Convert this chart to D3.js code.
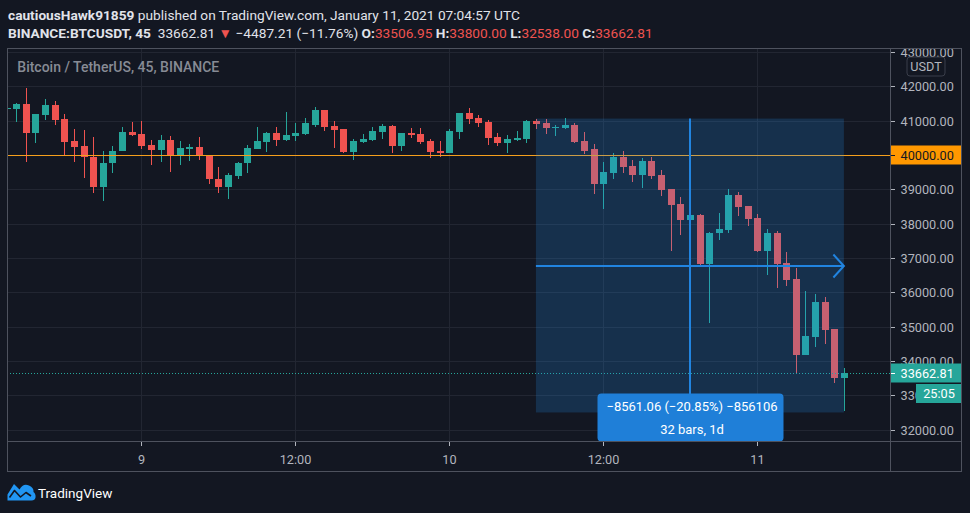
<!DOCTYPE html>
<html><head><meta charset="utf-8">
<script src="https://cdn.jsdelivr.net/npm/d3@7/dist/d3.min.js"></script>
<style>
html,body{margin:0;padding:0;background:#131722;}
svg{display:block;font-family:Roboto,"Noto Sans",sans-serif;}
</style></head><body>
<svg id="c" width="970" height="513"></svg>
<script>
// ---------- data (45-minute bars, first bar Jan 8 13:30 UTC, last bar Jan 11 06:45 UTC) ----------
const openP  = [41340,41329,41475,40637,41163,41446,41037,40394,40248,39956,39059,39760,40111,40657,
  40599,40277,40140,40424,39965,40169,40219,39994,39314,39059,39381,39760,40161,40374,40628,40424,40540,40599,40862,41300,40832,40745,40102,40365,40424,40657,40832,40248,40628,40599,40394,40131,
  40073,40657,41212,41066,40949,40511,40336,40424,40453,40979,40920,40774,40774,40862,40394,40161,39168,39489,39956,39693,39430,39839,39430,39021,38583,38116,38262,36831,37736,37824,38846,38525,
  38174,37210,37736,36860,36393,34173,34698,35721,34932,33506.95];
const highP  = [41380,41525,41963,41183,41621,41563,41183,40745,40716,40511,40131,40248,40803,40949,
  40979,40424,40570,40540,40394,40307,40511,39994,39644,39489,39810,40277,40803,40666,40803,41241,40920,41066,41387,41300,40979,40745,40453,40599,40803,40891,40862,40628,40774,40774,40453,40394,
  40745,41212,41358,41154,41008,40628,40570,40686,41008,41061,41037,40862,41066,40920,40657,40307,39810,40073,40131,39869,39927,39956,39576,39021,38788,38300,38291,37765,38320,39021,38934,38525,
  38291,37853,37795,37181,36714,36042,35954,35867,34932,33800];
const lowP   = [41320,40958,39790,40345,41017,40870,39965,39790,39322,38884,38650,39468,40111,40540,
  40169,39702,39790,39498,39702,39819,39848,39147,38884,38709,39293,39468,40161,40102,40248,40394,40394,40570,40803,40686,40190,40044,39869,40336,40394,40453,40044,40131,40482,40307,39927,39956,
  40073,40453,40891,40803,40277,40248,40044,40394,40336,40745,40599,40540,40745,40336,40015,38875,38437,39314,39489,39226,39051,39314,38817,37210,37678,38050,36800,35116,37532,37736,38233,37941,
  37181,36509,36130,36188,33618,34173,34406,34494,33355,32538];
const closeP = [41360,41475,40637,41183,41446,41017,40374,40228,39936,39059,39781,40131,40657,40570,
  40257,40140,40424,39965,40190,40219,39965,39293,39059,39410,39781,40190,40394,40628,40424,40570,40628,40920,41300,40803,40716,40102,40394,40453,40686,40832,40248,40628,40570,40365,40102,40073,
  40686,41212,41037,40920,40482,40336,40453,40482,40979,40891,40774,40803,40862,40365,40131,39168,39518,39956,39664,39430,39839,39401,38992,38554,38116,38262,36831,37736,37853,38846,38496,38145,
  37210,37736,36831,36363,34173,34728,35721,34903,33507,33662.81];

const timeTickBars   = [14, 30, 46, 62, 78];            // bar positions of the time labels
const timeTickLabels = ["9", "12:00", "10", "12:00", "11"];
const priceTicks     = [32000,33000,34000,35000,36000,37000,38000,39000,40000,41000,42000,43000];
const priceLine      = 40000;                             // horizontal line level
const lastPrice      = 33662.81;
const countdown      = "25:05";
const measureBars    = [55, 87];                          // date/price range tool: from bar, to bar
const measurePrices  = [41061.06, 32500.00];
const measureText    = ["\u22128561.06 (\u221220.85%) \u2212856106", "32 bars, 1d"];

// ---------- layout ----------
const W = 970, H = 513;
const P = {l: 7, r: 890, t: 49, b: 441, axisR: 962, timeB: 472};
const UP = "#26a69a", DOWN = "#ef5350", AX = "#b2b5be", GRID = "#222632", BORDER = "#4e525e";

const svg = d3.select("#c");
svg.append("rect").attr("width", W).attr("height", H).attr("fill", "#131722");

const x = d3.scaleLinear().domain([0.047, 91.79]).range([P.l, P.r]);
const y = d3.scaleLinear().domain([31669, 43088]).range([P.b, P.t]);
const px = v => Math.round(x(v));

const defs = svg.append("defs");
defs.append("clipPath").attr("id", "plot").append("rect")
  .attr("x", P.l).attr("y", P.t).attr("width", P.r - P.l).attr("height", P.b - P.t);
defs.append("clipPath").attr("id", "axis").append("rect")
  .attr("x", P.r).attr("y", P.t).attr("width", P.axisR - P.r).attr("height", P.b - P.t);

// ---------- header ----------
const HF = 13.7;
const h1 = svg.append("text").attr("x", 8).attr("y", 19.5).attr("font-size", HF).attr("fill", "#e1e3ea");
h1.append("tspan").attr("font-weight", 700).text("cautiousHawk91859");
h1.append("tspan").text(" published on TradingView.com, January 11, 2021 07:04:57 UTC");

const h2 = svg.append("text").attr("x", 8).attr("y", 38).attr("font-size", HF).attr("fill", "#e1e3ea");
h2.append("tspan").attr("font-weight", 700).text("BINANCE:BTCUSDT, 45");
h2.append("tspan").text("\u00a0 33662.81 ");
h2.append("tspan").attr("fill", DOWN).text("\u25BC");
h2.append("tspan").text(" \u22124487.21 (\u221211.76%) ");
[["O:", "33506.95"], ["H:", "33800.00"], ["L:", "32538.00"], ["C:", "33662.81"]].forEach(([k, v], i) => {
  h2.append("tspan").attr("font-weight", 700).text((i ? " " : "") + k);
  h2.append("tspan").attr("fill", DOWN).text(v);
});

// ---------- grid ----------
const g = svg.append("g").attr("clip-path", "url(#plot)").attr("shape-rendering", "crispEdges");
g.selectAll(".hg").data(priceTicks).join("line")
  .attr("x1", P.l).attr("x2", P.r)
  .attr("y1", d => Math.round(y(d)) + 0.5).attr("y2", d => Math.round(y(d)) + 0.5)
  .attr("stroke", GRID);
g.selectAll(".vg").data(timeTickBars).join("line")
  .attr("y1", P.t).attr("y2", P.b)
  .attr("x1", d => px(d) + 0.5).attr("x2", d => px(d) + 0.5)
  .attr("stroke", GRID);

// ---------- candles ----------
const bars = openP.map((o, i) => ({i, o, h: highP[i], l: lowP[i], c: closeP[i]}));
const cg = g.append("g");
cg.selectAll("line.w").data(bars).join("line")
  .attr("x1", d => px(d.i) + 0.5).attr("x2", d => px(d.i) + 0.5)
  .attr("y1", d => Math.round(y(d.h))).attr("y2", d => Math.round(y(d.l)))
  .attr("stroke", d => d.c >= d.o ? UP : DOWN);
cg.selectAll("rect.b").data(bars).join("rect")
  .attr("x", d => px(d.i) - 3).attr("width", 7)
  .attr("y", d => Math.round(y(Math.max(d.o, d.c))))
  .attr("height", d => Math.max(1, Math.round(y(Math.min(d.o, d.c))) - Math.round(y(Math.max(d.o, d.c)))))
  .attr("fill", d => d.c >= d.o ? UP : DOWN);

// 40000 line
g.append("line").attr("x1", P.l).attr("x2", P.r)
  .attr("y1", Math.round(y(priceLine)) + 0.5).attr("y2", Math.round(y(priceLine)) + 0.5)
  .attr("stroke", "#f59f1c").attr("stroke-width", 1);
// last price dotted line
g.append("line").attr("x1", P.l).attr("x2", P.r)
  .attr("y1", Math.round(y(lastPrice)) + 0.5).attr("y2", Math.round(y(lastPrice)) + 0.5)
  .attr("stroke", UP).attr("stroke-dasharray", "1,2");

// ---------- date & price range ----------
const mx1 = x(measureBars[0]), mx2 = x(measureBars[1]);
const my1 = y(measurePrices[0]), my2 = y(measurePrices[1]);
const midX = Math.round((mx1 + mx2) / 2), mid = Math.round((my1 + my2) / 2);
const mg = svg.append("g").attr("clip-path", "url(#plot)");
mg.append("rect").attr("x", mx1).attr("y", my1).attr("width", mx2 - mx1).attr("height", my2 - my1)
  .attr("fill", "rgba(33,150,243,0.2)");
mg.append("line").attr("x1", midX).attr("x2", midX).attr("y1", my1).attr("y2", my2)
  .attr("stroke", "#2184e0").attr("stroke-width", 2);
mg.append("line").attr("x1", mx1).attr("x2", mx2 - 1).attr("y1", mid).attr("y2", mid)
  .attr("stroke", "#2184e0").attr("stroke-width", 2);
mg.append("path").attr("d", `M${mx2 - 10.5},${mid - 11.5}L${mx2},${mid}L${mx2 - 10.5},${mid + 11.5}`)
  .attr("fill", "none").attr("stroke", "#2184e0").attr("stroke-width", 2);
const lw = 186, lh = 48;
svg.append("rect").attr("x", midX - lw / 2 + 0.5).attr("y", P.b + 0.5 - lh).attr("width", lw).attr("height", lh)
  .attr("rx", 4).attr("fill", "#1f7fd8");
measureText.forEach((t, k) => {
  svg.append("text").attr("x", midX + 2).attr("y", 406.7 + k * 22.5)
    .attr("dominant-baseline", "central").attr("text-anchor", "middle")
    .attr("font-size", 13).attr("fill", "#ffffff").text(t);
});

// title
svg.append("text").attr("x", 17.3).attr("y", 72).attr("font-size", 14).attr("font-weight", 500)
  .attr("fill", "#878b95").text("Bitcoin / TetherUS, 45, BINANCE");

// ---------- borders ----------
const bl = svg.append("g").attr("stroke", BORDER).attr("shape-rendering", "crispEdges");
[[P.l, P.t - 0.5, P.axisR, P.t - 0.5], [P.l, P.b + 0.5, P.axisR, P.b + 0.5], [P.l, P.timeB - 0.5, P.axisR, P.timeB - 0.5],
 [P.l + 0.5, P.t - 0.5, P.l + 0.5, P.timeB - 0.5], [P.r + 0.5, P.t - 0.5, P.r + 0.5, P.timeB - 0.5],
 [P.axisR - 0.5, P.t - 0.5, P.axisR - 0.5, P.timeB - 0.5]]
  .forEach(([a, b, c, d]) => bl.append("line").attr("x1", a).attr("y1", b).attr("x2", c).attr("y2", d));

// ---------- price axis ----------
const ya = svg.append("g").attr("clip-path", "url(#axis)");
ya.selectAll("line").data(priceTicks).join("line")
  .attr("x1", P.r + 1).attr("x2", P.r + 5)
  .attr("y1", d => Math.round(y(d)) + 0.5).attr("y2", d => Math.round(y(d)) + 0.5)
  .attr("stroke", AX).attr("shape-rendering", "crispEdges");
ya.selectAll("text").data(priceTicks).join("text")
  .attr("x", 900.5).attr("y", d => y(d) + 0.5).attr("dominant-baseline", "central")
  .attr("font-size", 12.7).attr("fill", AX).text(d => d3.format(".2f")(d));

function priceTag(v, fill, color) {
  const yy = Math.round(y(v));
  ya.append("rect").attr("x", P.r + 1).attr("y", yy - 9.5).attr("width", P.axisR - P.r - 2).attr("height", 19).attr("fill", fill);
  ya.append("line").attr("x1", P.r + 1).attr("x2", P.r + 5).attr("y1", yy + 0.5).attr("y2", yy + 0.5)
    .attr("stroke", color).attr("shape-rendering", "crispEdges");
  ya.append("text").attr("x", 900.5).attr("y", yy + 0.5).attr("dominant-baseline", "central")
    .attr("font-size", 12.7).attr("fill", color).text(d3.format(".2f")(v));
  return yy;
}
priceTag(priceLine, "#ff9800", "#131722");
const ly = priceTag(lastPrice, UP, "#ffffff");
ya.append("rect").attr("x", 916).attr("y", ly + 11).attr("width", P.axisR - 1 - 916).attr("height", 19).attr("fill", UP);
ya.append("text").attr("x", 939).attr("y", ly + 20.5).attr("dominant-baseline", "central").attr("text-anchor", "middle")
  .attr("font-size", 12.7).attr("fill", "#ffffff").text(countdown);

// USDT badge
svg.append("rect").attr("x", 907).attr("y", 57).attr("width", 38).attr("height", 19).attr("rx", 3)
  .attr("fill", "#131722").attr("stroke", "#3a3e4a");
svg.append("text").attr("x", 926).attr("y", 66.8).attr("dominant-baseline", "central").attr("text-anchor", "middle")
  .attr("font-size", 12.7).attr("fill", AX).text("USDT");

// ---------- time axis ----------
const xa = svg.append("g");
xa.selectAll("line").data(timeTickBars).join("line")
  .attr("x1", d => px(d) + 0.5).attr("x2", d => px(d) + 0.5).attr("y1", P.b + 1).attr("y2", P.b + 4.5)
  .attr("stroke", AX).attr("shape-rendering", "crispEdges");
xa.selectAll("text").data(timeTickBars).join("text")
  .attr("x", d => px(d) + 0.5).attr("y", 459).attr("dominant-baseline", "central").attr("text-anchor", "middle")
  .attr("font-size", 12.7).attr("fill", AX).text((d, i) => timeTickLabels[i]);

// ---------- logo ----------
const logo = svg.append("g");
logo.append("path")
  .attr("d", "M7.5,500.5 L7.5,494.5 L14,484 L19.5,489.5 Q23,483 29,485.5 Q34,487.5 33.5,492 Q36,494 35.5,497.5 Q35,500.5 31.5,500.5 Z")
  .attr("fill", "#2196f3");
logo.append("path").attr("d", "M9.5,497.5 L14.5,490.5 L20.5,497 L26,492.5 L31,496")
  .attr("fill", "none").attr("stroke", "#131722").attr("stroke-width", 1.6).attr("stroke-linejoin", "round");
svg.append("text").attr("x", 38).attr("y", 493).attr("dominant-baseline", "central")
  .attr("font-size", 13.5).attr("fill", "#ffffff").text("TradingView");
</script>
</body></html>
